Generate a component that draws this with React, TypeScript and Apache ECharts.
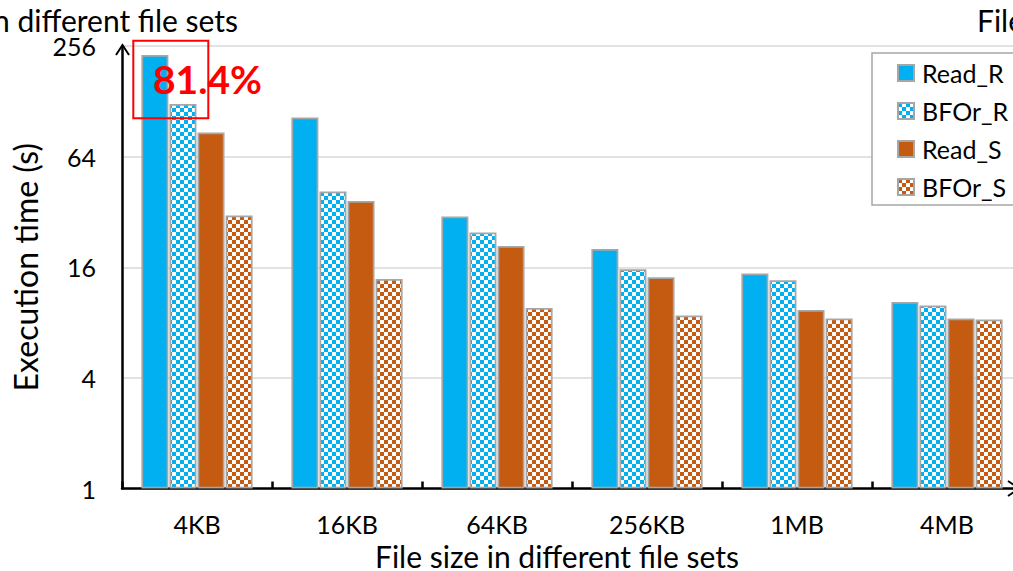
import React, { useEffect, useRef } from "react";
import * as echarts from "echarts";

// File-size categories on the x axis
const categories = ["4KB", "16KB", "64KB", "256KB", "1MB", "4MB"];

// Execution time (s) for each method
const readR = [229, 104.6, 30.2, 20.1, 14.8, 10.36];
const bforR = [123.9, 41.4, 24.7, 15.6, 13.6, 9.91];
const readS = [86.7, 36.7, 20.9, 14.1, 9.37, 8.42];
const bforS = [30.6, 13.8, 9.6, 8.74, 8.42, 8.32];

const seriesNames = ["Read_R", "BFOr_R", "Read_S", "BFOr_S"];

const BLUE = "#00B0F0";
const ORANGE = "#C55A11";
const EDGE = "#A6A6A6";
const FONT = "Lato, 'Noto Sans', sans-serif";

// Checkerboard fill (colour / white) for the BFOr bars
function checker(color: string) {
  const c = document.createElement("canvas");
  c.width = 8;
  c.height = 8;
  const ctx = c.getContext("2d")!;
  ctx.fillStyle = "#ffffff";
  ctx.fillRect(0, 0, 8, 8);
  ctx.fillStyle = color;
  ctx.fillRect(0, 0, 4, 4);
  ctx.fillRect(4, 4, 4, 4);
  return { image: c, repeat: "repeat" } as any;
}

export default function App() {
  const ref = useRef<HTMLDivElement>(null);

  useEffect(() => {
    if (!ref.current) return;
    const chart = echarts.init(ref.current, undefined, { renderer: "svg" });

    const fills = [BLUE, checker(BLUE), ORANGE, checker(ORANGE)];
    const values = [readR, bforR, readS, bforS];

    chart.setOption({
      animation: false,
      backgroundColor: "#ffffff",
      textStyle: { fontFamily: FONT },
      grid: {
        left: 122,
        top: 46,
        width: 900,
        height: 442.5,
        containLabel: false,
        outerBoundsMode: "none",
      },
      legend: {
        orient: "vertical",
        left: 872,
        top: 53,
        icon: "rect",
        itemWidth: 16,
        itemHeight: 16,
        itemGap: 8,
        padding: [5, 24, 3, 25],
        borderColor: EDGE,
        borderWidth: 1.5,
        backgroundColor: "#ffffff",
        textStyle: {
          fontFamily: FONT,
          fontSize: 25,
          color: "#000",
          lineHeight: 30,
          padding: [0, 0, 0, 3],
        },
        data: seriesNames,
      },
      xAxis: {
        type: "category",
        data: categories,
        name: "File size in different file sets",
        nameLocation: "middle",
        nameGap: 52,
        nameTextStyle: {
          fontFamily: FONT,
          fontSize: 30,
          color: "#000",
          padding: [0, 30, 0, 0],
        },
        axisLine: { lineStyle: { color: "#000", width: 2.5 } },
        axisTick: { show: true, inside: true, length: 7, lineStyle: { color: "#000", width: 2.5 } },
        axisLabel: { fontFamily: FONT, fontSize: 25, color: "#000", margin: 23 },
        splitLine: { show: false },
      },
      yAxis: {
        type: "log",
        logBase: 2,
        min: 1,
        max: 256,
        interval: 2,
        name: "Execution time (s)",
        nameLocation: "middle",
        nameGap: 74,
        nameRotate: 90,
        nameTextStyle: { fontFamily: FONT, fontSize: 32, color: "#000" },
        axisLine: { show: true, lineStyle: { color: "#000", width: 2.5 } },
        axisTick: { show: false },
        axisLabel: { fontFamily: FONT, fontSize: 25, color: "#000", margin: 26 },
        splitLine: { show: true, lineStyle: { color: "#D9D9D9", width: 1.5 } },
      },
      series: seriesNames.map((name, i) => ({
        name,
        type: "bar",
        data: values[i],
        barWidth: 27,
        barGap: "4%",
        silent: true,
        itemStyle: { color: fills[i], borderColor: EDGE, borderWidth: 1.75 },
      })),
      graphic: [
        // open arrow heads on the axes
        {
          type: "polyline",
          z: 100,
          shape: { points: [[116, 55], [122.5, 45], [129, 55]] },
          style: { stroke: "#000", lineWidth: 2, fill: "none" },
        },
        {
          type: "polyline",
          z: 100,
          shape: { points: [[1008, 481], [1019, 488.5], [1008, 496]] },
          style: { stroke: "#000", lineWidth: 2, fill: "none" },
        },
        // highlighted reduction
        {
          type: "rect",
          z: 100,
          shape: { x: 133.3, y: 40.7, width: 75, height: 77.6 },
          style: { stroke: "#FF0000", lineWidth: 2, fill: "none" },
        },
        {
          type: "text",
          z: 101,
          x: 153,
          y: 79,
          style: {
            text: "81.4%",
            fill: "#FF0000",
            font: `bold 39px ${FONT}`,
            textAlign: "left",
            textVerticalAlign: "middle",
          },
        },
        // neighbouring panel captions
        {
          type: "text",
          z: 100,
          x: -7,
          y: 20,
          style: {
            text: "n different file sets",
            fill: "#000",
            font: `30px ${FONT}`,
            textAlign: "left",
            textVerticalAlign: "middle",
          },
        },
        {
          type: "text",
          z: 100,
          x: 977,
          y: 20,
          style: {
            text: "File",
            fill: "#000",
            font: `30px ${FONT}`,
            textAlign: "left",
            textVerticalAlign: "middle",
          },
        },
      ],
    });

    return () => chart.dispose();
  }, []);

  return (
    <div
      ref={ref}
      style={{ position: "fixed", left: 0, top: 0, width: 1013, height: 571, background: "#fff" }}
    />
  );
}
